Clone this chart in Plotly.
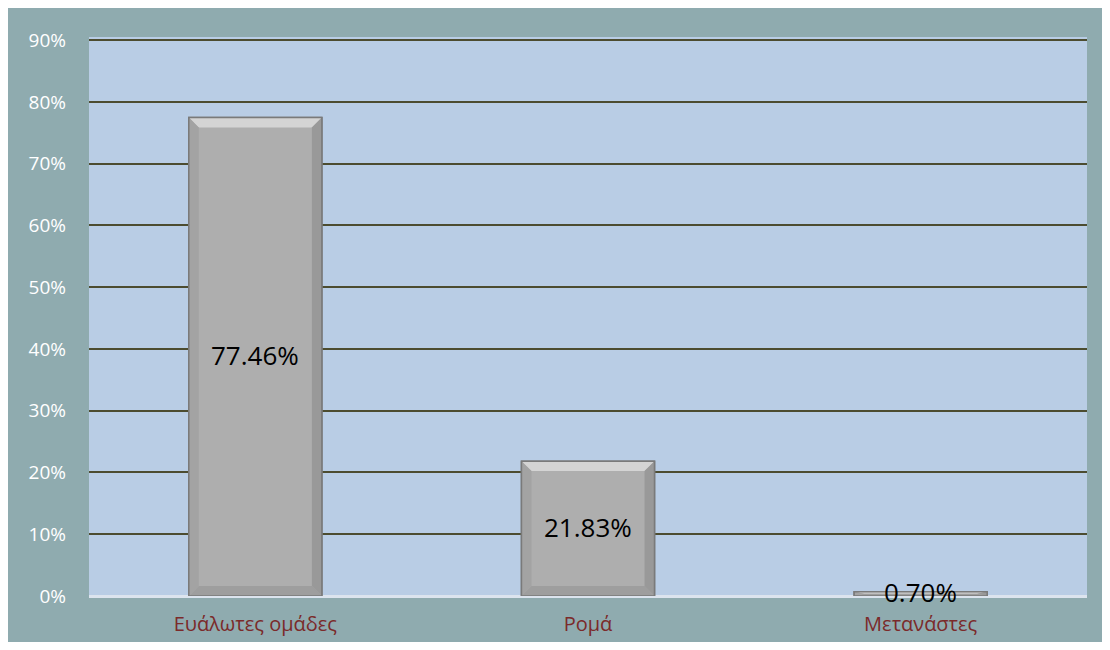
import plotly.graph_objs as go

# Datos del gráfico
categorias = ["Ευάλωτες ομάδες", "Ρομά", "Μετανάστες"]
valores = [0.7746, 0.2183, 0.0070]
etiquetas = ["77.46%", "21.83%", "0.70%"]
ticks_y = [0, 0.1, 0.2, 0.3, 0.4, 0.5, 0.6, 0.7, 0.8, 0.9]
ticks_y_texto = ["0%", "10%", "20%", "30%", "40%", "50%", "60%", "70%", "80%", "90%"]

fondo = "#8FABAF"
fondo_grafico = "#B9CDE5"
ancho_barra = 0.4

fig = go.Figure()
fig.add_trace(go.Bar(
    x=list(range(len(categorias))),
    y=valores,
    width=ancho_barra,
    marker=dict(color="#AEAEAE", line=dict(color="#7A7A7A", width=1.5)),
    hoverinfo="skip",
))

# Biselado de las barras (decoración en unidades de datos)
dx = 0.03   # ~10 px en horizontal
dy = 0.016  # ~10 px en vertical
for i, val in enumerate(valores):
    h = min(dy, val / 2)
    x0, x1 = i - ancho_barra / 2, i + ancho_barra / 2
    caras = [
        (f"M {x0},{val} L {x1},{val} L {x1-dx},{val-h} L {x0+dx},{val-h} Z", "#D4D4D4"),
        (f"M {x0},0 L {x1},0 L {x1-dx},{h} L {x0+dx},{h} Z", "#9E9E9E"),
        (f"M {x0},0 L {x0},{val} L {x0+dx},{val-h} L {x0+dx},{h} Z", "#A3A3A3"),
        (f"M {x1},0 L {x1},{val} L {x1-dx},{val-h} L {x1-dx},{h} Z", "#999999"),
    ]
    for camino, color in caras:
        fig.add_shape(type="path", path=camino, xref="x", yref="y",
                      fillcolor=color, line=dict(width=0), layer="above")
    fig.add_shape(type="rect", xref="x", yref="y", x0=x0, x1=x1, y0=0, y1=val,
                  line=dict(color="#7A7A7A", width=1.5), layer="above")

# Etiquetas en el centro de cada barra
for i, (val, txt) in enumerate(zip(valores, etiquetas)):
    fig.add_annotation(
        x=i, y=val / 2, text=txt, showarrow=False, yshift=2,
        font=dict(family="Open Sans", size=26, color="#000000"),
    )

fig.update_layout(
    width=1094,
    height=634,
    margin=dict(l=81, r=15, t=29, b=46),
    paper_bgcolor=fondo,
    plot_bgcolor=fondo_grafico,
    showlegend=False,
    xaxis=dict(
        range=[-0.5, len(categorias) - 0.5],
        tickvals=list(range(len(categorias))),
        ticktext=categorias,
        showgrid=False,
        showline=False,
        zeroline=False,
        ticks="",
        automargin=False,
        ticklabelstandoff=14,
        tickfont=dict(family="Open Sans", size=20, color="#7B2A2A"),
    ),
    yaxis=dict(
        range=[0, 0.905],
        tickvals=ticks_y,
        ticktext=ticks_y_texto,
        showgrid=True,
        gridcolor="#4C4C30",
        gridwidth=2,
        zeroline=True,
        zerolinecolor="#DCE4EE",
        zerolinewidth=3,
        automargin=False,
        ticklabelstandoff=22,
        tickfont=dict(family="Open Sans", size=19, color="#FFFFFF"),
    ),
)

fig.write_html("out.html")
